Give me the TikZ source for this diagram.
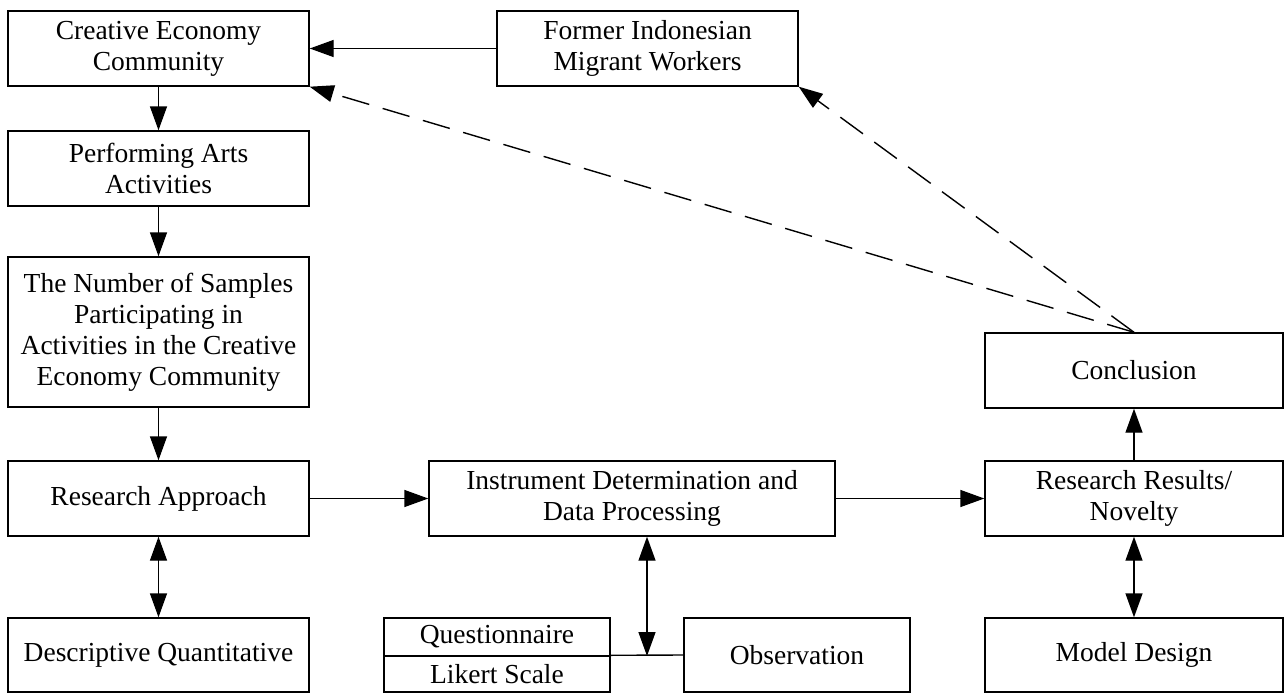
\documentclass[tikz,border=0pt]{standalone}
\usepackage{fontspec}
\setmainfont{Liberation Serif}
\usetikzlibrary{arrows.meta,calc}
\begin{document}
\begin{tikzpicture}[x=1pt,y=-1pt,
  box/.style={draw, line width=1.4pt, inner sep=0pt, align=center, font=\fontsize{27.5}{31}\selectfont},
  tip/.tip={Triangle[length=24pt,width=17pt]},
  conn/.style={line width=1.4pt, -tip},
  biconn/.style={line width=1.4pt, tip-tip},
  dconn/.style={conn, dash pattern=on 28pt off 14pt},
  plain/.style={line width=1.4pt}]
\useasboundingbox (0,0) rectangle (1285,693);
% left column
\node[box, minimum width=301pt, minimum height=75pt] (cre) at (158.5,48.5) {Creative Economy\\Community};
\node[box, minimum width=301pt, minimum height=75pt] (per) at (158.5,168.5) {Performing Arts\\Activities};
\node[box, minimum width=301pt, minimum height=150pt] (num) at (158.5,332) {The Number of Samples\\Participating in\\Activities in the Creative\\Economy Community};
\node[box, minimum width=301pt, minimum height=75pt] (app) at (158.5,498.5) {Research Approach};
\node[box, minimum width=301pt, minimum height=74pt] (des) at (158.5,655) {Descriptive Quantitative};
% top
\node[box, minimum width=301pt, minimum height=75pt] (for) at (647.5,48.5) {Former Indonesian\\Migrant Workers};
% middle
\node[box, minimum width=406pt, minimum height=75pt] (ins) at (632,498.5) {Instrument Determination and\\Data Processing};
\node[box, minimum width=226pt, minimum height=38pt] (que) at (497,637) {Questionnaire};
\node[box, minimum width=226pt, minimum height=36pt] (lik) at (497,674) {Likert Scale};
\node[box, minimum width=226pt, minimum height=74pt] (obs) at (797,655) {Observation};
% right column
\node[box, minimum width=298pt, minimum height=75pt] (con) at (1134,370.5) {Conclusion};
\node[box, minimum width=298pt, minimum height=75pt] (res) at (1134,498.5) {Research Results/\\Novelty};
\node[box, minimum width=298pt, minimum height=74pt] (mod) at (1134,655) {Model Design};
% connectors
\draw[conn] (for.west) -- (cre.east);
\draw[conn] (cre.south) -- (per.north);
\draw[conn] (per.south) -- (num.north);
\draw[conn] (num.south) -- (app.north);
\draw[biconn] (app.south) -- (des.north);
\draw[conn] (app.east) -- (ins.west);
\draw[conn] (ins.east) -- (res.west);
\draw[conn] (res.north) -- (con.south);
\draw[biconn] (res.south) -- (mod.north);
\coordinate (join) at (647,656);
\draw[plain] (lik.north east) -- (obs.west);
\draw[biconn] (ins.south -| join) -- (join);
\draw[dconn] (con.north) -- (cre.south east);
\draw[dconn] (con.north) -- (for.south east);
\end{tikzpicture}
\end{document}
